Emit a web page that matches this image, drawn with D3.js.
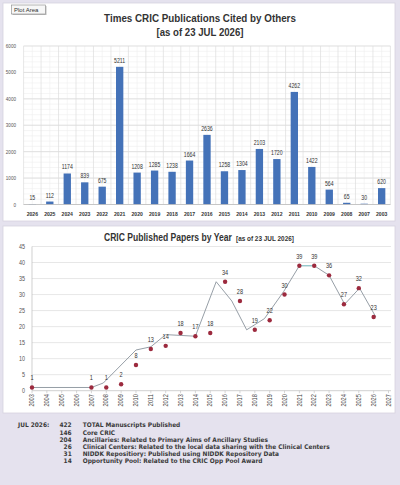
<!DOCTYPE html>
<html><head><meta charset="utf-8">
<script src="https://cdn.jsdelivr.net/npm/d3@7/dist/d3.min.js"></script>
<style>body{margin:0;background:#e5e2ee;}svg{display:block;}</style>
</head><body>
<svg id="c" width="400" height="485"></svg>
<script>
// ---------- data ----------
const barCategories = ["2026","2025","2024","2023","2022","2021","2020","2019","2018","2017","2016","2015","2014","2013","2012","2011","2010","2009","2008","2007","2003"];
const barValues = [15,112,1174,839,675,5211,1208,1285,1238,1664,2636,1258,1304,2103,1720,4262,1422,564,65,30,620];
const barTicks = [0,1000,2000,3000,4000,5000,6000];

const pointYears = [2003,2007,2008,2009,2010,2011,2012,2013,2014,2015,2016,2017,2018,2019,2020,2021,2022,2023,2024,2025,2026];
const pointValues = [1,1,1,2,8,13,14,18,17,18,34,28,19,22,30,39,39,36,27,32,23];
const trendYears = [2003,2007,2007.8,2010,2011,2012,2014,2015.4,2016.45,2017.45,2018.65,2019.95,2021,2022,2023,2024.05,2025.05,2026.15];
const trendValues = [1,1,2.4,12.7,13.7,17.5,17,34,28,19,22.5,31,39,39,36,27,32,23];
const lineTicks = [0,5,10,15,20,25,30,35,40,45];
const axisYears = d3.range(2003, 2028);

const summaryLabel = "JUL 2026:";
const summaryCounts = [422,146,204,26,31,14];
const summaryTexts = [
  "TOTAL Manuscripts Published",
  "Core CRIC",
  "Ancillaries: Related to Primary Aims of Ancillary Studies",
  "Clinical Centers: Related to the local data sharing with the Clinical Centers",
  "NIDDK Repositiory: Published using NIDDK Repository Data",
  "Opportunity Pool: Related to the CRIC Opp Pool Award"
];

// ---------- setup ----------
const SANS = "'Liberation Sans',Arial,sans-serif";
const svg = d3.select("#c");
svg.append("rect").attr("width",400).attr("height",485).attr("fill","#e5e2ee");

svg.append("rect").attr("x",3).attr("y",3).attr("width",392).attr("height",218)
  .attr("fill","#fff").attr("stroke","#d6d3de").attr("stroke-width",0.8);
svg.append("rect").attr("x",3).attr("y",226).attr("width",392).attr("height",187)
  .attr("fill","#fff").attr("stroke","#d6d3de").attr("stroke-width",0.8);

// horizontally condensed text placed at (x,y), scaled to a target width
function condensed(parent, x, y, txt, size, target, anchor){
  const g = parent.append("g");
  const t = g.append("text").attr("font-family",SANS).attr("font-weight","bold")
    .attr("font-size",size).attr("fill","#333").attr("text-anchor",anchor||"start").text(txt);
  const w = t.node().getComputedTextLength();
  g.attr("transform",`translate(${x},${y}) scale(${target/w},1)`);
  return g;
}

// ---------- bar chart ----------
const bx = d3.scaleBand().domain(barCategories).range([23.6, 390.4]).paddingInner(0.58).paddingOuter(0.29);
const by = d3.scaleLinear().domain([0,6000]).range([204.5, 46]);
const bg = svg.append("g");
bg.selectAll("line.hmin").data(d3.range(0,6001,200)).join("line")
  .attr("x1",23.6).attr("x2",390.4).attr("y1",d=>by(d)).attr("y2",d=>by(d))
  .attr("stroke","#efefef").attr("stroke-width",0.6);
const step = bx.step();
bg.selectAll("line.vmin").data(barCategories).join("line")
  .attr("x1",d=>bx(d)+bx.bandwidth()/2).attr("x2",d=>bx(d)+bx.bandwidth()/2)
  .attr("y1",by(6000)).attr("y2",by(0)).attr("stroke","#efefef").attr("stroke-width",0.6);
bg.selectAll("line.hmaj").data(barTicks).join("line")
  .attr("x1",23.6).attr("x2",390.4).attr("y1",d=>by(d)).attr("y2",d=>by(d))
  .attr("stroke","#d9d9d9").attr("stroke-width",0.7);
bg.selectAll("line.vmaj").data(d3.range(barCategories.length+1)).join("line")
  .attr("x1",i=>23.6+i*step).attr("x2",i=>23.6+i*step)
  .attr("y1",by(6000)).attr("y2",by(0)).attr("stroke","#dcdcdc").attr("stroke-width",0.7);
bg.selectAll("text.yt").data(barTicks).join("text").attr("class","n")
  .attr("x",16).attr("y",d=>by(d)+2).attr("text-anchor","end")
  .attr("font-family",SANS).attr("font-size",5.6).attr("fill","#555").text(d=>d);
bg.selectAll("rect.bar").data(barCategories).join("rect")
  .attr("x",d=>bx(d)).attr("width",bx.bandwidth())
  .attr("y",(d,i)=>by(barValues[i])).attr("height",(d,i)=>by(0)-by(barValues[i]))
  .attr("fill","#4472b8");
bg.append("line").attr("x1",23.6).attr("x2",390.4).attr("y1",by(0)).attr("y2",by(0))
  .attr("stroke","#bfbfbf").attr("stroke-width",0.8);
bg.selectAll("text.val").data(barCategories).join("text").attr("class","n")
  .attr("x",d=>bx(d)+bx.bandwidth()/2).attr("y",(d,i)=>by(barValues[i])-4)
  .attr("text-anchor","middle").attr("font-family",SANS).attr("font-size",6.3)
  .attr("fill","#333").text((d,i)=>barValues[i]);
bg.selectAll("text.cat").data(barCategories).join("text").attr("class","n")
  .attr("x",d=>bx(d)+bx.bandwidth()/2).attr("y",215.5)
  .attr("text-anchor","middle").attr("font-family",SANS).attr("font-size",6.2)
  .attr("font-weight","bold").attr("fill","#333").text(d=>d);
condensed(svg, 200, 21.5, "Times CRIC Publications Cited by Others", 10.5, 192, "middle");
condensed(svg, 200, 36, "[as of 23 JUL 2026]", 10.5, 87, "middle");
svg.append("rect").attr("x",12.5).attr("y",6).attr("width",34).attr("height",9).attr("fill","#bbb");
svg.append("rect").attr("x",11.5).attr("y",5).attr("width",34).attr("height",9)
  .attr("fill","#f7f7f7").attr("stroke","#888").attr("stroke-width",0.6);
svg.append("text").attr("x",14).attr("y",11.8).attr("font-family",SANS)
  .attr("font-size",6).attr("fill","#333").text("Plot Area");

// ---------- line chart ----------
const lx = d3.scaleLinear().domain([2003,2027]).range([32, 388.5]);
const ly = d3.scaleLinear().domain([0,45]).range([390.7, 246.5]);
const lg = svg.append("g");
lg.selectAll("line.grid").data(lineTicks).join("line")
  .attr("x1",32).attr("x2",391).attr("y1",d=>ly(d)).attr("y2",d=>ly(d))
  .attr("stroke",d=>d===0?"#bcbcbc":"#dcdcdc").attr("stroke-width",0.7);
lg.append("line").attr("x1",32).attr("x2",32).attr("y1",ly(45)).attr("y2",ly(0))
  .attr("stroke","#bcbcbc").attr("stroke-width",0.7);
lg.selectAll("text.yt").data(lineTicks).join("text").attr("class","n")
  .attr("x",25).attr("y",d=>ly(d)+2.2).attr("text-anchor","end")
  .attr("font-family",SANS).attr("font-size",6.6).attr("fill","#555").text(d=>d);
lg.selectAll("line.xt").data(axisYears).join("line")
  .attr("x1",d=>lx(d)).attr("x2",d=>lx(d)).attr("y1",ly(0)).attr("y2",ly(0)+2.5)
  .attr("stroke","#bcbcbc").attr("stroke-width",0.6);
lg.selectAll("text.xl").data(axisYears).join("text").attr("class","n")
  .attr("transform",d=>`translate(${lx(d)+2.2},${ly(0)+3.5}) rotate(-90)`)
  .attr("text-anchor","end").attr("font-family",SANS).attr("font-size",6.8)
  .attr("fill","#444").text(d=>d);
const trend = trendYears.map((y,i)=>[y,trendValues[i]]);
lg.append("path").datum(trend)
  .attr("d",d3.line().x(d=>lx(d[0])).y(d=>ly(d[1])))
  .attr("fill","none").attr("stroke","#8a939c").attr("stroke-width",0.9);
const hiIdx = trendYears.indexOf(2021);
lg.append("path").datum(trend.slice(hiIdx, hiIdx+2))
  .attr("d",d3.line().x(d=>lx(d[0])).y(d=>ly(d[1])))
  .attr("fill","none").attr("stroke","#8fcfd2").attr("stroke-width",1);
lg.selectAll("circle.pt").data(pointYears).join("circle")
  .attr("cx",d=>lx(d)).attr("cy",(d,i)=>ly(pointValues[i])).attr("r",2.2)
  .attr("fill","#9c2a3e");
lg.selectAll("text.pl").data(pointYears).join("text").attr("class","n")
  .attr("x",d=>lx(d)).attr("y",(d,i)=>ly(pointValues[i])-7)
  .attr("text-anchor","middle").attr("font-family",SANS).attr("font-size",6.8)
  .attr("fill","#333").text((d,i)=>pointValues[i]);
condensed(svg, 104, 241, "CRIC Published Papers by Year", 10, 128, "start");
condensed(svg, 236, 241, "[as of 23 JUL 2026]", 7, 58, "start");

// narrow-font emulation for small labels
svg.selectAll("text.n").each(function(){
  const w = this.getComputedTextLength();
  d3.select(this).attr("textLength", w*0.82).attr("lengthAdjust","spacingAndGlyphs");
});

// ---------- summary ----------
const sg = svg.append("g").attr("font-family","'DejaVu Sans',sans-serif")
  .attr("font-weight","bold").attr("font-size",6.3).attr("fill","#3a3a3a");
const rowY = i => 427.3 + i*7.2;
sg.append("text").attr("x",18).attr("y",rowY(0)).text(summaryLabel);
sg.selectAll("text.cnt").data(summaryCounts).join("text")
  .attr("x",71.7).attr("y",(d,i)=>rowY(i)).attr("text-anchor","end").text(d=>d);
const desc = sg.selectAll("text.desc").data(summaryTexts).join("text")
  .attr("x",82.7).attr("y",(d,i)=>rowY(i)).text(d=>d);
const longest = desc.nodes()[3].getComputedTextLength();
const k = 247 / longest;
sg.selectAll("text").each(function(){
  const w = this.getComputedTextLength();
  d3.select(this).attr("textLength", w*k).attr("lengthAdjust","spacingAndGlyphs");
});
</script>
</body></html>
